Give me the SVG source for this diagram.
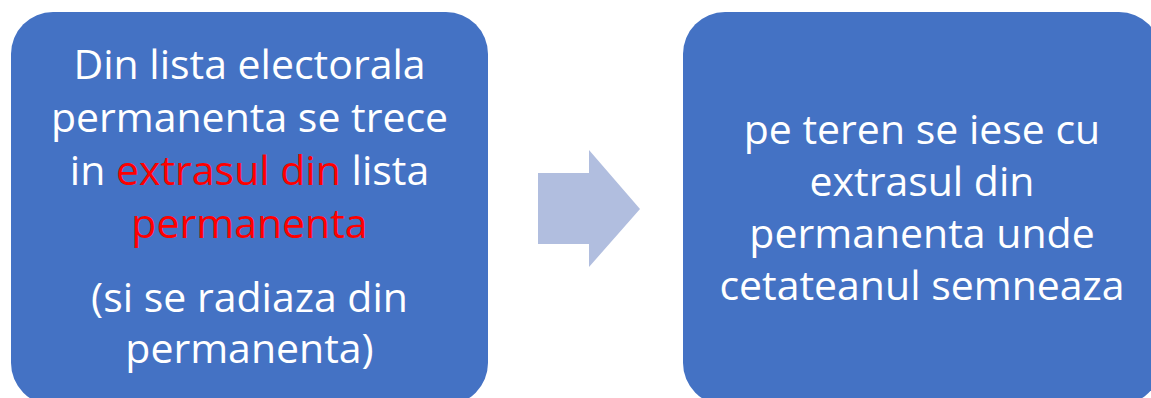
<svg xmlns="http://www.w3.org/2000/svg" width="1151" height="398" viewBox="0 0 1151 398">
<style>
.box{fill:#4472C4}
.t{font-family:"Open Sans",Lato,sans-serif;font-size:41px;fill:#FFFFFF;text-anchor:middle}
.r{fill:#FF0000}
.arrow{fill:#B1BEDF}
</style>
<rect width="1151" height="398" fill="#FFFFFF"/>
<g id="node1">
<rect class="box" x="11" y="12" width="477" height="393" rx="42" ry="42"/>
<text class="t" x="249.5" y="79">Din lista electorala</text>
<text class="t" x="249.5" y="132">permanenta se trece</text>
<text class="t" x="249.5" y="185">in <tspan class="r">extrasul din</tspan> lista</text>
<text class="t r" x="249.5" y="238">permanenta</text>
<text class="t" x="249.5" y="312">(si se radiaza din</text>
<text class="t" x="249.5" y="363">permanenta)</text>
</g>
<g id="connectors">
<polygon class="arrow" points="538,173 589,173 589,150 640,209 589,267 589,244 538,244"/>
</g>
<g id="node2">
<rect class="box" x="683" y="12" width="478" height="393" rx="42" ry="42"/>
<text class="t" x="922" y="144">pe teren se iese cu</text>
<text class="t" x="922" y="196">extrasul din</text>
<text class="t" x="922" y="248">permanenta unde</text>
<text class="t" x="922" y="300">cetateanul semneaza</text>
</g>
</svg>
